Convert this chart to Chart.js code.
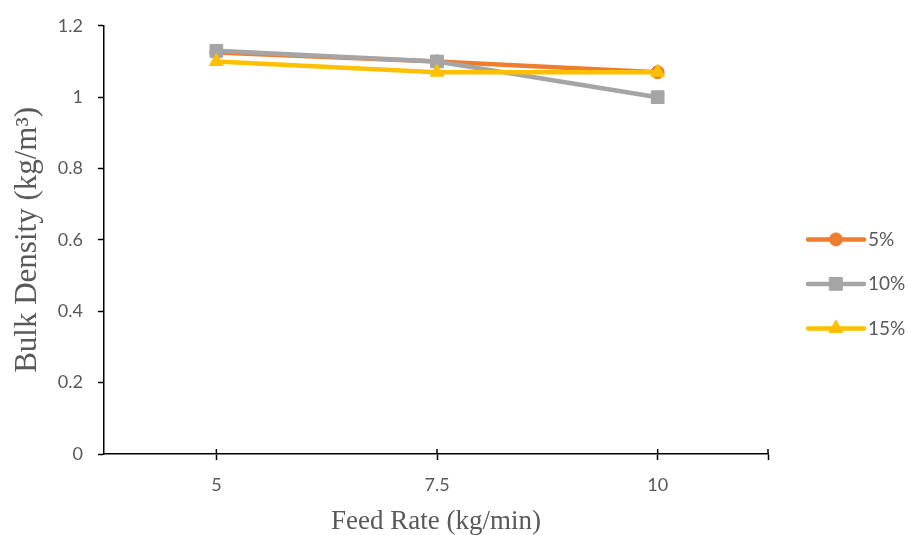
<!DOCTYPE html>
<html>
<head>
<meta charset="utf-8">
<script src="https://cdn.jsdelivr.net/npm/chart.js@4"></script>
<style>
  html, body { margin: 0; padding: 0; background: #fff; }
  #wrap { width: 911px; height: 535px; }
</style>
</head>
<body>
<div id="wrap"><canvas id="grafico"></canvas></div>
<script>
// Dados
const feedRates = [5, 7.5, 10];
const serie5 = [1.125, 1.10, 1.07];
const serie10 = [1.13, 1.10, 1.00];
const serie15 = [1.10, 1.07, 1.07];
const seriesNomes = ['5%', '10%', '15%'];
const yTicks = [0, 0.2, 0.4, 0.6, 0.8, 1, 1.2];
const xTicks = [5, 7.5, 10, 11.25];

const cores = ['#ED7D31', '#A5A5A5', '#FFC000'];
const marcadores = ['circle', 'rect', 'triangle'];
const raios = [6.5, 9, 8];
const corTexto = '#595959';

const pontos = vals => feedRates.map((x, i) => ({ x: x, y: vals[i] }));

const datasets = [serie5, serie10, serie15].map((vals, i) => ({
  label: seriesNomes[i],
  data: pontos(vals),
  borderColor: cores[i],
  backgroundColor: cores[i],
  borderWidth: 4.5,
  pointStyle: marcadores[i],
  pointRadius: raios[i],
  pointHoverRadius: raios[i],
  pointBackgroundColor: cores[i],
  pointBorderColor: cores[i],
  pointBorderWidth: 1,
  order: 3 - i,
  tension: 0,
}));

// ticks do eixo x cruzando a linha (estilo Excel)
const ticksCruzados = {
  id: 'ticksCruzados',
  afterDraw(chart) {
    const ctx = chart.ctx;
    const sx = chart.scales.x;
    const y0 = chart.chartArea.bottom;
    ctx.save();
    ctx.strokeStyle = '#000';
    ctx.lineWidth = 1.5;
    xTicks.forEach(v => {
      const px = sx.getPixelForValue(v);
      ctx.beginPath();
      ctx.moveTo(px, y0 - 5);
      ctx.lineTo(px, y0);
      ctx.stroke();
    });
    ctx.restore();
  },
};

// legenda com linha + marcador
const legendaExcel = {
  id: 'legendaExcel',
  afterDraw(chart) {
    const ctx = chart.ctx;
    const area = chart.chartArea;
    const x0 = area.right + 40;
    const meio = (area.top + area.bottom) / 2 + 44;
    ctx.save();
    datasets.forEach((ds, i) => {
      const y = meio + (i - 1) * 44.5;
      ctx.strokeStyle = ds.borderColor;
      ctx.lineWidth = 4.5;
      ctx.lineCap = 'round';
      ctx.beginPath();
      ctx.moveTo(x0, y);
      ctx.lineTo(x0 + 56, y);
      ctx.stroke();
      ctx.fillStyle = ds.backgroundColor;
      ctx.strokeStyle = ds.borderColor;
      ctx.lineWidth = 1;
      Chart.helpers.drawPoint(ctx, { pointStyle: ds.pointStyle, radius: ds.pointRadius, borderWidth: 1, rotation: 0 }, x0 + 28, y);
      ctx.fillStyle = corTexto;
      ctx.font = '19px Lato';
      ctx.textAlign = 'left';
      ctx.textBaseline = 'middle';
      ctx.fillText(ds.label, x0 + 60, y);
    });
    ctx.restore();
  },
};

new Chart(document.getElementById('grafico').getContext('2d'), {
  type: 'line',
  data: { datasets: datasets },
  plugins: [ticksCruzados, legendaExcel],
  options: {
    responsive: true,
    maintainAspectRatio: false,
    animation: false,
    layout: { padding: { top: 24, right: 143, left: 0, bottom: 0 } },
    plugins: {
      legend: { display: false },
      tooltip: { enabled: false },
    },
    scales: {
      x: {
        type: 'linear',
        min: 3.727,
        max: 11.25,
        afterBuildTicks: scale => {
          scale.ticks = xTicks.map(v => ({ value: v }));
        },
        afterFit: scale => { scale.height = 81; },
        ticks: {
          color: corTexto,
          font: { family: 'Lato', size: 18 },
          padding: 14,
          maxRotation: 0,
          autoSkip: false,
          callback: v => (feedRates.includes(v) ? String(v) : ''),
        },
        grid: {
          drawOnChartArea: false,
          tickLength: 6,
          tickColor: '#000',
          tickWidth: 1.5,
        },
        border: { color: '#000', width: 1.5 },
        title: {
          display: true,
          text: 'Feed Rate (kg/min)',
          color: corTexto,
          font: { family: 'Liberation Serif', size: 27 },
          padding: { top: 4, bottom: -3 },
        },
      },
      y: {
        min: 0,
        max: 1.2,
        afterBuildTicks: scale => {
          scale.ticks = yTicks.map(v => ({ value: v }));
        },
        afterFit: scale => { scale.width = 104; },
        ticks: {
          color: corTexto,
          font: { family: 'Lato', size: 18 },
          padding: 15,
          callback: v => String(v),
        },
        grid: {
          drawOnChartArea: false,
          tickLength: 6,
          tickColor: '#000',
          tickWidth: 1.5,
        },
        border: { color: '#000', width: 1.5 },
        title: {
          display: true,
          text: 'Bulk Density (kg/m³)',
          color: corTexto,
          font: { family: 'Liberation Serif', size: 31 },
          padding: { top: 9, bottom: 4 },
        },
      },
    },
  },
});
</script>
</body>
</html>
